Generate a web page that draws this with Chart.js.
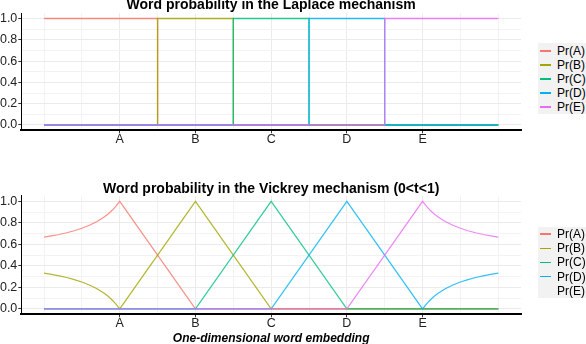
<!DOCTYPE html>
<html>
<head>
<meta charset="utf-8">
<script src="https://cdn.jsdelivr.net/npm/chart.js@4.4.1/dist/chart.umd.min.js"></script>
<style>
  body { margin: 0; background: #fff; font-family: "Liberation Sans", Arial, sans-serif; }
  #wrap { position: relative; width: 586px; height: 344px; overflow: hidden; }
  .panel { position: absolute; left: 0; width: 586px; height: 172px; }
  .legend { position: absolute; left: 538px; width: 48px; background: #F2F2F2; }
  .row { position: relative; height: 14px; line-height: 14px; font-size: 12px; color: #000; padding-left: 19px; white-space: nowrap; }
  .key { position: absolute; left: 2px; top: 6px; width: 11px; height: 1.5px; }
</style>
</head>
<body>
<div id="wrap">
  <div class="panel" style="top:0"><canvas id="laplace"></canvas></div>
  <div class="panel" style="top:172px"><canvas id="vickrey"></canvas></div>
  <div class="legend" id="legendTop" style="top:43px;padding-top:1px"></div>
  <div class="legend" id="legendBottom" style="top:227px"></div>
</div>
<script>
// ---------- Data ----------
const categories = ["A", "B", "C", "D", "E"];           // labels at x = 1..5
const seriesNames = ["Pr(A)", "Pr(B)", "Pr(C)", "Pr(D)", "Pr(E)"];
const seriesColors = ["#F8766D", "#A3A500", "#00BF7D", "#00B0F6", "#E76BF3"];
const xTickValues = [0, 0.5, 1, 1.5, 2, 2.5, 3, 3.5, 4, 4.5, 5, 5.5, 6];
const yTickValues = [0, 0.1, 0.2, 0.3, 0.4, 0.5, 0.6, 0.7, 0.8, 0.9, 1];

// Laplace: step functions, [x, y]
const laplaceA = [[0, 1], [1.5, 1], [1.5, 0], [6, 0]];
const laplaceB = [[0, 0], [1.5, 0], [1.5, 1], [2.5, 1], [2.5, 0], [6, 0]];
const laplaceC = [[0, 0], [2.5, 0], [2.5, 1], [3.5, 1], [3.5, 0], [6, 0]];
const laplaceD = [[0, 0], [3.5, 0], [3.5, 1], [4.5, 1], [4.5, 0], [6, 0]];
const laplaceE = [[0, 0], [4.5, 0], [4.5, 1], [6, 1]];

// Vickrey, [x, y]
const vickreyA = [[0, 0.667], [0.1, 0.679], [0.2, 0.692], [0.3, 0.708], [0.4, 0.727], [0.5, 0.75], [0.6, 0.778],
  [0.7, 0.812], [0.8, 0.857], [0.85, 0.885], [0.9, 0.917], [0.95, 0.955], [1, 1], [2, 0], [6, 0]];
const vickreyB = [[0, 0.333], [0.1, 0.321], [0.2, 0.308], [0.3, 0.292], [0.4, 0.273], [0.5, 0.25], [0.6, 0.222],
  [0.7, 0.188], [0.8, 0.143], [0.85, 0.115], [0.9, 0.083], [0.95, 0.045], [1, 0], [2, 1], [3, 0], [6, 0]];
const vickreyC = [[0, 0], [2, 0], [3, 1], [4, 0], [6, 0]];
const vickreyD = [[0, 0], [3, 0], [4, 1], [5, 0], [5.05, 0.045], [5.1, 0.083], [5.15, 0.115], [5.2, 0.143],
  [5.3, 0.188], [5.4, 0.222], [5.5, 0.25], [5.6, 0.273], [5.7, 0.292], [5.8, 0.308], [5.9, 0.321], [6, 0.333]];
const vickreyE = [[0, 0], [4, 0], [5, 1], [5.05, 0.955], [5.1, 0.917], [5.15, 0.885], [5.2, 0.857],
  [5.3, 0.812], [5.4, 0.778], [5.5, 0.75], [5.6, 0.727], [5.7, 0.708], [5.8, 0.692], [5.9, 0.679], [6, 0.667]];

const topKeys = [true, true, true, true, true];
const bottomKeys = [true, true, true, true, false];

// ---------- Helpers ----------
const FONT = "'Liberation Sans', Arial, sans-serif";

function alpha(hex, a) {
  const n = parseInt(hex.slice(1), 16);
  return `rgba(${n >> 16},${(n >> 8) & 255},${n & 255},${a})`;
}
const isMajorX = v => Number.isInteger(v) && v >= 1 && v <= 5;
const isMajorY = v => Math.round(v * 10) % 2 === 0;

function makeChart(id, title, series, o) {
  const datasets = series.map((pts, i) => ({
    label: seriesNames[i],
    data: pts.map(([x, y]) => ({ x, y })),
    borderColor: alpha(seriesColors[i], o.alpha),
    borderWidth: o.lineWidth,
    pointRadius: 0,
    fill: false,
    tension: 0,
    order: series.length - i
  }));

  return new Chart(document.getElementById(id), {
    type: "line",
    data: { datasets },
    options: {
      responsive: true,
      maintainAspectRatio: false,
      animation: false,
      layout: { padding: { left: 0, right: 65, top: 0, bottom: 0 } },
      plugins: {
        legend: { display: false },
        tooltip: { enabled: false },
        title: {
          display: true,
          text: title,
          fullSize: false,
          color: "#000",
          font: { family: FONT, size: 14, weight: "bold", lineHeight: 0.67 },
          padding: { top: o.titleTop, bottom: o.titleBottom }
        }
      },
      scales: {
        x: {
          type: "linear",
          min: -0.3,
          max: 6.3,
          afterBuildTicks: s => { s.ticks = xTickValues.map(v => ({ value: v })); },
          afterFit: s => { s.height = o.xHeight; },
          ticks: {
            autoSkip: false,
            maxRotation: 0,
            padding: 0.3,
            color: "#222",
            font: { family: FONT, size: 12.5, lineHeight: 1 },
            callback: v => isMajorX(v) ? categories[v - 1] : ""
          },
          grid: {
            color: c => c.tick && isMajorX(c.tick.value) ? "#EBEBEB" : "#F3F3F3",
            tickColor: c => c.tick && isMajorX(c.tick.value) ? "#333" : "rgba(0,0,0,0)",
            tickLength: 3,
            lineWidth: 1
          },
          border: { display: true, color: "#000", width: 2 },
          title: o.xTitle ? {
            display: true,
            text: o.xTitle,
            color: "#000",
            font: { family: FONT, size: 12, weight: "bold", style: "italic", lineHeight: 0.9 },
            padding: { top: 0, bottom: 0 }
          } : { display: false }
        },
        y: {
          type: "linear",
          min: -0.05,
          max: 1.05,
          afterBuildTicks: s => { s.ticks = yTickValues.map(v => ({ value: v })); },
          afterFit: s => { s.width = 21.3; },
          ticks: {
            autoSkip: false,
            padding: 1,
            color: "#222",
            font: { family: FONT, size: 12.5, lineHeight: 1 },
            callback: v => isMajorY(v) ? v.toFixed(1) : ""
          },
          grid: {
            color: c => c.tick && isMajorY(c.tick.value) ? "#EBEBEB" : "#F3F3F3",
            tickColor: c => c.tick && isMajorY(c.tick.value) ? "#333" : "rgba(0,0,0,0)",
            tickLength: 3,
            lineWidth: 1
          },
          border: { display: true, color: "#000", width: 1 }
        }
      }
    }
  });
}

function renderLegend(elId, keys, rowHeight) {
  const box = document.getElementById(elId);
  seriesNames.forEach((name, i) => {
    const row = document.createElement("div");
    row.className = "row";
    row.style.height = rowHeight + "px";
    row.style.lineHeight = rowHeight + "px";
    row.textContent = name;
    if (keys[i]) {
      const k = document.createElement("span");
      k.className = "key";
      k.style.background = seriesColors[i];
      k.style.top = (rowHeight / 2 - 0.75) + "px";
      row.appendChild(k);
    }
    box.appendChild(row);
  });
}

// ---------- Charts ----------
makeChart("laplace", "Word probability in the Laplace mechanism",
  [laplaceA, laplaceB, laplaceC, laplaceD, laplaceE],
  { alpha: 0.85, lineWidth: 1.3, titleTop: 0, titleBottom: 3.8, xHeight: 41.7 });

makeChart("vickrey", "Word probability in the Vickrey mechanism (0<t<1)",
  [vickreyA, vickreyB, vickreyC, vickreyD, vickreyE],
  { alpha: 0.8, lineWidth: 1.2, titleTop: 12, titleBottom: 2.6, xHeight: 29.7,
    xTitle: "One-dimensional word embedding" });

renderLegend("legendTop", topKeys, 14);
renderLegend("legendBottom", bottomKeys, 14.2);
</script>
</body>
</html>
